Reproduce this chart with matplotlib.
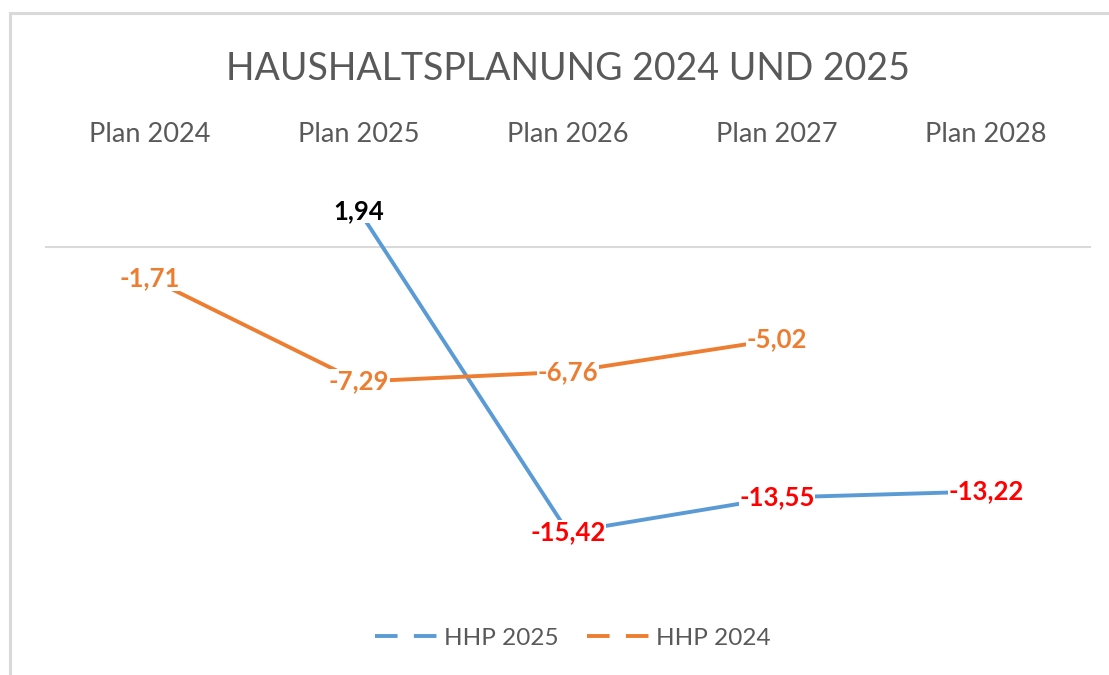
import matplotlib
matplotlib.use("Agg")
import matplotlib.pyplot as plt
from matplotlib.lines import Line2D
from matplotlib.patches import Rectangle

plt.rcParams['font.family'] = ['Lato', 'DejaVu Sans']

categories = ["Plan 2024", "Plan 2025", "Plan 2026", "Plan 2027", "Plan 2028"]
hhp2025 = [None, 1.94, -15.42, -13.55, -13.22]
hhp2024 = [-1.71, -7.29, -6.76, -5.02, None]
title = "HAUSHALTSPLANUNG 2024 UND 2025"

BLUE = "#5B9BD5"
ORANGE = "#ED7D31"
GRAY = "#595959"

W, H = 1109, 675
fig = plt.figure(figsize=(W / 100, H / 100), dpi=100)
fig.patch.set_facecolor("white")

# chart border
fig.patches.append(Rectangle((9.5 / W, -0.05), 1.2, 1 - 12.5 / H + 0.05,
                             transform=fig.transFigure, fill=False,
                             edgecolor="#D9D9D9", linewidth=2.2, clip_on=False))

left, right = 45.4, 1090.6
top, bottom = 154.0, 617.0
ax = fig.add_axes([left / W, 1 - bottom / H, (right - left) / W, (bottom - top) / H])
ax.set_xlim(-0.5, len(categories) - 0.5)
ax.set_ylim(-20, 5)
for s in ax.spines.values():
    s.set_visible(False)
ax.set_yticks([])
ax.xaxis.tick_top()
ax.set_xticks(range(len(categories)))
ax.set_xticklabels(categories, fontsize=19.5, color=GRAY)
ax.tick_params(axis="x", length=0, pad=5)
ax.axhline(0, color="#D9D9D9", linewidth=1.5, zorder=1)


def draw(series, color, label_colors):
    xs = [i for i, v in enumerate(series) if v is not None]
    ys = [v for v in series if v is not None]
    ax.plot(xs, ys, color=color, linewidth=2.8, solid_capstyle="butt", zorder=2)
    for x, y in zip(xs, ys):
        txt = f"{y:.2f}".replace(".", ",")
        ax.text(x, y, txt, ha="center", va="center", fontsize=18.5, fontweight="bold",
                color=label_colors(y), zorder=3,
                bbox=dict(boxstyle="square,pad=0.02", facecolor="white", edgecolor="none"))


draw(hhp2025, BLUE, lambda v: "#000000" if v >= 0 else "#FF0000")
draw(hhp2024, ORANGE, lambda v: ORANGE)

fig.text(568 / W, 1 - 69 / H, title, ha="center", va="center", fontsize=27, color=GRAY)

handles = [Line2D([], [], color=BLUE, linewidth=2.8, dashes=(5.8, 4.2), dash_capstyle="butt"),
           Line2D([], [], color=ORANGE, linewidth=2.8, dashes=(5.8, 4.2), dash_capstyle="butt")]
fig.legend(handles, ["HHP 2025", "HHP 2024"], loc="center", bbox_to_anchor=(573 / W, 1 - 638 / H),
           ncol=2, frameon=False, fontsize=17.5, labelcolor=GRAY, handlelength=2.6,
           handletextpad=0.25, columnspacing=1.15)

fig.savefig("out.png", dpi=100, facecolor="white")
